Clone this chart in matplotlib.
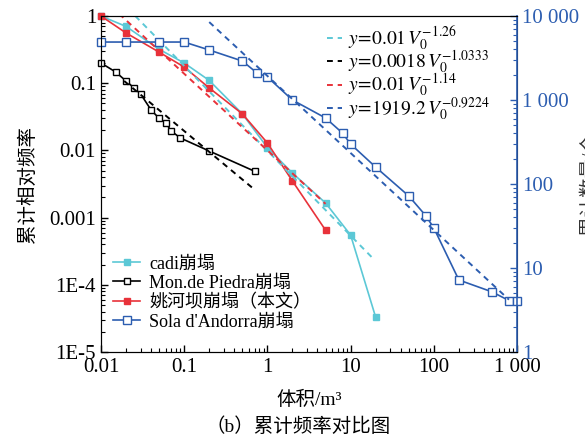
import matplotlib
matplotlib.use("Agg")
import matplotlib.pyplot as plt
from matplotlib.ticker import LogLocator, FixedLocator, FixedFormatter, NullFormatter

plt.rcParams['font.family'] = ['Liberation Serif', 'Noto Sans CJK SC']
plt.rcParams['mathtext.fontset'] = 'stix'

# cadi collapse
cadi_x = [0.01, 0.02, 0.05, 0.1, 0.2, 0.5, 1, 2, 5, 10, 20]
cadi_y = [1.0, 0.7, 0.32, 0.2, 0.11, 0.035, 0.011, 0.0046, 0.00165, 0.00055, 3.3e-5]

# Mon. de Piedra collapse
mon_x = [0.01, 0.015, 0.02, 0.025, 0.03, 0.04, 0.05, 0.06, 0.07, 0.09, 0.2, 0.7]
mon_y = [0.2, 0.147, 0.108, 0.085, 0.069, 0.04, 0.030, 0.0256, 0.0194, 0.0153, 0.0098, 0.0049]

# Yaohe dam collapse (this paper)
yao_x = [0.01, 0.02, 0.05, 0.1, 0.2, 0.5, 1, 2, 5]
yao_y = [1.0, 0.56, 0.29, 0.174, 0.085, 0.035, 0.0129, 0.0035, 0.00065]

# Sola d'Andorra collapse (right axis, counts)
sola_x = [0.01, 0.02, 0.05, 0.1, 0.2, 0.5, 0.75, 1, 2, 5, 8, 10, 20, 50, 80, 100, 200, 500, 800, 1000]
sola_y = [4900, 4900, 4900, 4900, 3940, 2910, 2100, 1880, 1000, 611, 404, 299, 159, 72, 42, 30, 7.2, 5.2, 4.1, 4.1]

# fitted power laws, end points
fit_cadi_x = [0.021, 19]
fit_cadi_y = [1.3, 2.4e-4]
fit_mon_x = [0.019, 0.69]
fit_mon_y = [0.108, 0.00265]
fit_yao_x = [0.0165, 5]
fit_yao_y = [1.08, 0.0016]
fit_sola_x = [0.2, 800]
fit_sola_y = [8470, 4.2]

fit_labels = [r'$y\!=\!0.01\,V_0^{-1.26}$',
              r'$y\!=\!0.0018\,V_0^{-1.0333}$',
              r'$y\!=\!0.01\,V_0^{-1.14}$',
              r'$y\!=\!1919.2\,V_0^{-0.9224}$']

x_ticks = [0.01, 0.1, 1, 10, 100, 1000]
x_labels = ['0.01', '0.1', '1', '10', '100', '1 000']
y_ticks = [1e-5, 1e-4, 1e-3, 1e-2, 0.1, 1]
y_labels = ['1E-5', '1E-4', '0.001', '0.01', '0.1', '1']
y2_ticks = [1, 10, 100, 1000, 10000]
y2_labels = ['1', '10', '100', '1 000', '10 000']

cyan = '#5cc8d6'
red = '#e8323a'
blue = '#2c5db0'

fig = plt.figure(figsize=(5.85, 4.4), dpi=100)
ax = fig.add_axes([0.1726, 0.2, 0.7112, 0.7636])
ax2 = ax.twinx()

dash = (0, (3, 2.5))
lw = 1.2

l1, = ax.plot(cadi_x, cadi_y, color=cyan, lw=lw, marker='s', ms=5, mfc=cyan, mec=cyan,
              label='cadi崩塌', clip_on=False)
l2, = ax.plot(mon_x, mon_y, color='black', lw=lw, marker='s', ms=4.2, mfc='white', mec='black',
              label='Mon.de Piedra崩塌', clip_on=False)
l3, = ax.plot(yao_x, yao_y, color=red, lw=lw, marker='s', ms=5, mfc=red, mec=red,
              label='姚河坝崩塌（本文）', clip_on=False)
l4, = ax2.plot(sola_x, sola_y, color=blue, lw=lw, marker='s', ms=5.5, mfc='white', mec=blue,
               label="Sola d'Andorra崩塌", clip_on=False)

f1, = ax.plot(fit_cadi_x, fit_cadi_y, color=cyan, lw=1.4, ls=dash)
f2, = ax.plot(fit_mon_x, fit_mon_y, color='black', lw=1.4, ls=dash)
f3, = ax.plot(fit_yao_x, fit_yao_y, color=red, lw=1.4, ls=dash)
f4, = ax2.plot(fit_sola_x, fit_sola_y, color=blue, lw=1.4, ls=dash)

ax.set_xscale('log')
ax.set_yscale('log')
ax2.set_yscale('log')
ax.set_xlim(0.01, 1000)
ax.set_ylim(1e-5, 1)
ax2.set_ylim(1, 10000)

ax.xaxis.set_major_locator(FixedLocator(x_ticks))
ax.xaxis.set_major_formatter(FixedFormatter(x_labels))
ax.xaxis.set_minor_locator(LogLocator(base=10, subs=range(2, 10), numticks=20))
ax.xaxis.set_minor_formatter(NullFormatter())
ax.yaxis.set_major_locator(FixedLocator(y_ticks))
ax.yaxis.set_major_formatter(FixedFormatter(y_labels))
ax.yaxis.set_minor_locator(LogLocator(base=10, subs=range(2, 10), numticks=20))
ax.yaxis.set_minor_formatter(NullFormatter())
ax2.yaxis.set_major_locator(FixedLocator(y2_ticks))
ax2.yaxis.set_major_formatter(FixedFormatter(y2_labels))
ax2.yaxis.set_minor_locator(LogLocator(base=10, subs=range(2, 10), numticks=20))
ax2.yaxis.set_minor_formatter(NullFormatter())

ax.tick_params(axis='both', which='both', direction='in', top=False, right=False, labelsize=15)
ax.tick_params(which='major', length=5, width=1)
ax.tick_params(which='minor', length=3, width=0.8)
ax.tick_params(axis='x', pad=4)
ax2.tick_params(axis='y', which='both', direction='in', colors=blue, labelsize=15)
ax2.tick_params(which='major', length=5, width=1)
ax2.tick_params(which='minor', length=3, width=0.8)
for s in ['left', 'bottom', 'top']:
    ax2.spines[s].set_color('black')
ax2.spines['right'].set_color(blue)
ax2.spines['right'].set_linewidth(1.2)
ax.spines['left'].set_color('#333333')

ax.set_xlabel('体积/m³', fontsize=14, labelpad=10)
ax.set_ylabel('累计相对频率', fontsize=14, labelpad=9)
ax2.set_ylabel('累计数量/个', fontsize=14, labelpad=1, color='#333333')

leg1 = ax2.legend([l1, l2, l3, l4], [l.get_label() for l in [l1, l2, l3, l4]],
                  loc='upper left', bbox_to_anchor=(0.172, 0.448), bbox_transform=fig.transFigure,
                  frameon=False, fontsize=13, handlelength=1.5, handletextpad=0.5,
                  labelspacing=0.12, borderpad=0.2)
ax2.add_artist(leg1)
ax2.legend([f1, f2, f3, f4], fit_labels, loc='upper left', bbox_to_anchor=(0.535, 0.975),
           bbox_transform=fig.transFigure, frameon=False, fontsize=14, handlelength=0.8,
           handletextpad=0.3, labelspacing=-0.2, borderpad=0.2)

fig.text(0.51, 0.03, '（b）累计频率对比图', ha='center', va='center', fontsize=14)

fig.savefig('out.png', dpi=100)
